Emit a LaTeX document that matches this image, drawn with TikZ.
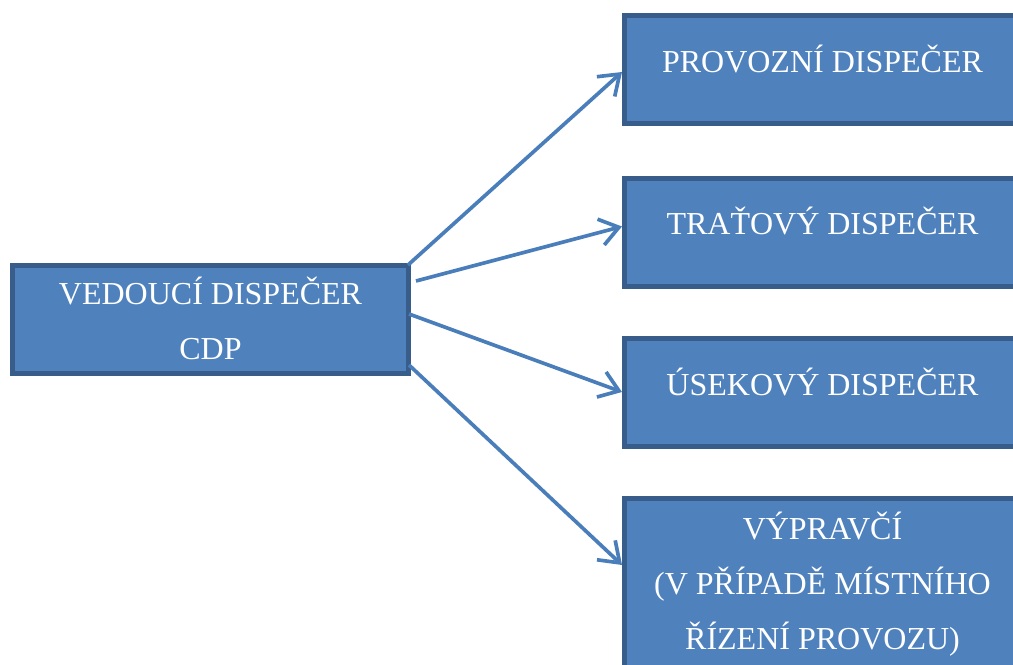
\documentclass[tikz,border=0pt]{standalone}
\usepackage{fontspec}
\setmainfont{Liberation Serif}
\usepackage{xcolor}
\usetikzlibrary{positioning,calc,arrows.meta}
\definecolor{boxfill}{RGB}{79,129,189}
\definecolor{boxline}{RGB}{56,93,138}
\definecolor{edgeblue}{RGB}{74,126,187}

\begin{document}
\begin{tikzpicture}
                [
                x=0.75pt, y=0.75pt,
                dispbox/.style={rectangle,draw=boxline,fill=boxfill,line width=3.75pt,inner sep=0pt,
                    minimum width=297pt,minimum height=81pt,text=white,align=center,
                    font=\fontsize{24pt}{41.25pt}\selectfont,text height=16.5pt,text depth=12.75pt},
                edge/.style={-{Straight Barb[length=14pt,width=20pt]},draw=edgeblue,line width=2.75pt}
                ]
            \path[use as bounding box, clip] (0,0) rectangle (1013,664);
            \node[dispbox,text height=60.75pt,text depth=0pt] (ved) at (210.5,344.5) {VEDOUCÍ DISPEČER\\CDP};
            \node[dispbox] (prov) at (822.5,594) {PROVOZNÍ DISPEČER};
            \node[dispbox] (trat) at (822.5,431.5) {TRAŤOVÝ DISPEČER};
            \node[dispbox] (usek) at (822.5,271) {ÚSEKOVÝ DISPEČER};
            \node[dispbox,minimum height=150pt,text height=99pt,text depth=23.25pt] (vyp) at (822.5,65.5)
                {VÝPRAVČÍ\\(V PŘÍPADĚ MÍSTNÍHO\\ŘÍZENÍ PROVOZU)};
            \draw[edge] ($(ved.north east)+(-3,-2)$) -- ($(prov.west)+(0,-2)$);
            \draw[edge] ($(ved.east)+(5,38.5)$) -- ($(trat.west)+(0,6)$);
            \draw[edge] ($(ved.east)+(-2,5.5)$) -- ($(usek.west)+(0,1)$);
            \draw[edge] ($(ved.east)+(-2,-45.5)$) -- ($(vyp.north west)+(0,-69)$);
            \end{tikzpicture}
\end{document}
